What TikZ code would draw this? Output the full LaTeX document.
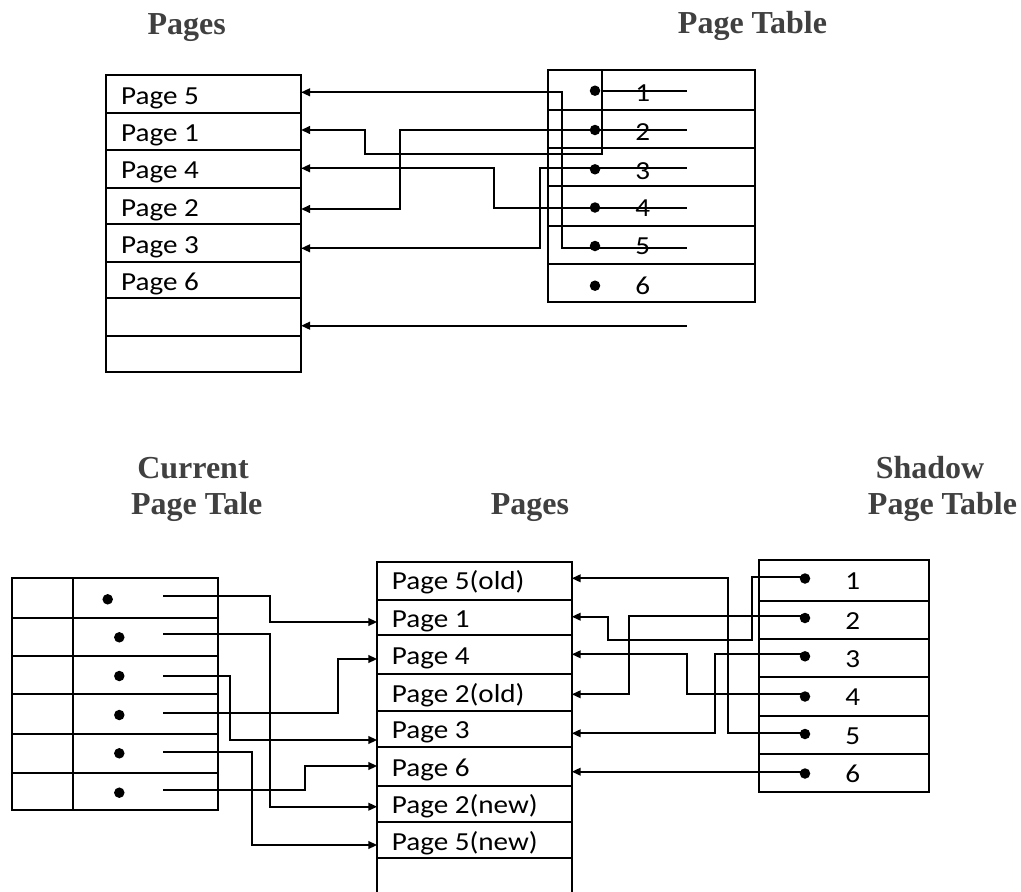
\documentclass[tikz,border=0pt]{standalone}
\usepackage{fontspec}
\setmainfont{Liberation Serif}
\newfontfamily\bodyfont[FakeStretch=1.12]{Carlito}
\usetikzlibrary{arrows.meta}
\definecolor{titlegray}{RGB}{64,64,64}
\tikzset{
  title/.style={font=\fontsize{32}{36}\selectfont\bfseries, text=titlegray, anchor=base, inner sep=0},
  cell/.style={draw, line width=2.2pt, inner sep=0, outer sep=0, anchor=north west},
  lbl/.style={font=\bodyfont\fontsize{26}{30}\selectfont, anchor=base west, inner sep=0},
  num/.style={font=\bodyfont\fontsize{26}{30}\selectfont, anchor=base, inner sep=0},
  link/.style={line width=2.2pt},
  arr/.style={link, -{Triangle[length=9pt,width=7.5pt]}},
  dot/.style={circle, fill, inner sep=0, minimum size=10.5pt},
}
\newcommand\cellrow[5]{%
  \pgfmathsetmacro\cw{#4-#2}\pgfmathsetmacro\ch{#5-#3}%
  \node[cell, minimum width=\cw pt, minimum height=\ch pt] (#1) at (#2,#3) {};}
\begin{document}
\begin{tikzpicture}[x=1pt,y=-1pt]
\useasboundingbox (0,0) rectangle (1021,892);

% ---------- titles ----------
\node[title] (t1) at (186.7,34.3) {Pages};
\node[title] (t2) at (752.5,33) {Page Table};
\node[title] (t3) at (193,478.3) {Current};
\node[title] (t4) at (196.7,514) {Page Tale};
\node[title] (t5) at (530,514) {Pages};
\node[title] (t6) at (930,478.3) {Shadow};
\node[title] (t7) at (942.5,514) {Page Table};

% ---------- top: pages ----------
\cellrow{tp1}{106}{75}{301}{112.7}
\cellrow{tp2}{106}{112.7}{301}{150}
\cellrow{tp3}{106}{150}{301}{187.7}
\cellrow{tp4}{106}{187.7}{301}{224.3}
\cellrow{tp5}{106}{224.3}{301}{261.7}
\cellrow{tp6}{106}{261.7}{301}{298.3}
\cellrow{tp7}{106}{298.3}{301}{336}
\cellrow{tp8}{106}{336}{301}{371.7}
\node[lbl] (tl1) at (121,104.3) {Page 5};
\node[lbl] (tl2) at (121,141.4) {Page 1};
\node[lbl] (tl3) at (121,178.9) {Page 4};
\node[lbl] (tl4) at (121,216) {Page 2};
\node[lbl] (tl5) at (121,253) {Page 3};
\node[lbl] (tl6) at (121,290) {Page 6};

% ---------- top: page table ----------
\cellrow{tt1}{548.3}{70}{755}{110}
\cellrow{tt2}{548.3}{110}{755}{148.3}
\cellrow{tt3}{548.3}{148.3}{755}{186}
\cellrow{tt4}{548.3}{186}{755}{225.7}
\cellrow{tt5}{548.3}{225.7}{755}{264}
\cellrow{tt6}{548.3}{264}{755}{301.7}
\node[dot] (td1) at (595,90.7) {};
\node[dot] (td2) at (595,130) {};
\node[dot] (td3) at (595,169.3) {};
\node[dot] (td4) at (595,207.5) {};
\node[dot] (td5) at (595,246) {};
\node[dot] (td6) at (595,285.7) {};
\node[num] (tn1) at (642.7,101.5) {1};
\node[num] (tn2) at (642.7,140.4) {2};
\node[num] (tn3) at (642.7,179.3) {3};
\node[num] (tn4) at (642.7,216.7) {4};
\node[num] (tn5) at (642.7,254.3) {5};
\node[num] (tn6) at (642.7,294.5) {6};

\coordinate (te1) at (686.7,90.7);
\coordinate (te2) at (686.7,130);
\coordinate (te3) at (686.7,168.3);
\coordinate (te4) at (686.7,208.3);
\coordinate (te5) at (686.7,248.3);
\coordinate (te7) at (686.7,325.7);

\draw[link] (tt1.north -| 602.3,0) -- (602.3,90.7);
\draw[arr] (te1) -- (602.3,90.7) -- (602.3,154.3) -- (365,154.3) -- (365,130) -- (tp2.east |- 0,130);
\draw[arr] (te2) -- (400,130) -- (400,209) -- (tp4.east |- 0,209);
\draw[arr] (te3) -- (540,168.3) -- (540,248.3) -- (tp5.east |- 0,248.3);
\draw[arr] (te4) -- (494.3,208.3) -- (494.3,168.3) -- (tp3.east |- 0,168.3);
\draw[arr] (te5) -- (562.3,248.3) -- (562.3,92.3) -- (tp1.east |- 0,92.3);
\draw[arr] (te7) -- (tp7.east |- 0,325.7);

% ---------- bottom: current page table ----------
\cellrow{bl1}{11.7}{577.7}{73.3}{617.7}
\cellrow{bl2}{11.7}{617.7}{73.3}{656}
\cellrow{bl3}{11.7}{656}{73.3}{694.3}
\cellrow{bl4}{11.7}{694.3}{73.3}{734.3}
\cellrow{bl5}{11.7}{734.3}{73.3}{772.7}
\cellrow{bl6}{11.7}{772.7}{73.3}{810}
\cellrow{br1}{73.3}{577.7}{218.3}{617.7}
\cellrow{br2}{73.3}{617.7}{218.3}{656}
\cellrow{br3}{73.3}{656}{218.3}{694.3}
\cellrow{br4}{73.3}{694.3}{218.3}{734.3}
\cellrow{br5}{73.3}{734.3}{218.3}{772.7}
\cellrow{br6}{73.3}{772.7}{218.3}{810}
\node[dot] (cd1) at (107.7,599.3) {};
\node[dot] (cd2) at (119.3,637.3) {};
\node[dot] (cd3) at (119.3,676) {};
\node[dot] (cd4) at (119.3,715) {};
\node[dot] (cd5) at (119.3,753.3) {};
\node[dot] (cd6) at (119.3,792.7) {};
\coordinate (cs1) at (163.3,596);
\coordinate (cs2) at (163.3,634);
\coordinate (cs3) at (163.3,676);
\coordinate (cs4) at (163.3,712.7);
\coordinate (cs5) at (163.3,752.3);
\coordinate (cs6) at (163.3,790);

% ---------- bottom: pages ----------
\cellrow{bp1}{377.3}{561.7}{571.7}{600}
\cellrow{bp2}{377.3}{600}{571.7}{635}
\cellrow{bp3}{377.3}{635}{571.7}{674}
\cellrow{bp4}{377.3}{674}{571.7}{711}
\cellrow{bp5}{377.3}{711}{571.7}{746.7}
\cellrow{bp6}{377.3}{746.7}{571.7}{786}
\cellrow{bp7}{377.3}{786}{571.7}{821.7}
\cellrow{bp8}{377.3}{821.7}{571.7}{858.3}
\cellrow{bp9}{377.3}{858.3}{571.7}{905}
\node[lbl] (bt1) at (391.7,589.8) {Page 5(old)};
\node[lbl] (bt2) at (391.7,627) {Page 1};
\node[lbl] (bt3) at (391.7,664.5) {Page 4};
\node[lbl] (bt4) at (391.7,702) {Page 2(old)};
\node[lbl] (bt5) at (391.7,738.5) {Page 3};
\node[lbl] (bt6) at (391.7,776) {Page 6};
\node[lbl] (bt7) at (391.7,813.5) {Page 2(new)};
\node[lbl] (bt8) at (391.7,850) {Page 5(new)};

% ---------- bottom: shadow page table ----------
\cellrow{bs1}{759}{560}{929.3}{600.7}
\cellrow{bs2}{759}{600.7}{929.3}{639.3}
\cellrow{bs3}{759}{639.3}{929.3}{676.7}
\cellrow{bs4}{759}{676.7}{929.3}{715.7}
\cellrow{bs5}{759}{715.7}{929.3}{754}
\cellrow{bs6}{759}{754}{929.3}{791.7}
\node[dot] (sd1) at (805,578.5) {};
\node[dot] (sd2) at (805,618) {};
\node[dot] (sd3) at (805,656.3) {};
\node[dot] (sd4) at (805,696.5) {};
\node[dot] (sd5) at (805,734) {};
\node[dot] (sd6) at (805,773.5) {};
\node[num] (sn1) at (852.7,589.5) {1};
\node[num] (sn2) at (852.7,629.5) {2};
\node[num] (sn3) at (852.7,667.5) {3};
\node[num] (sn4) at (852.7,705.7) {4};
\node[num] (sn5) at (852.7,744.3) {5};
\node[num] (sn6) at (852.7,782.3) {6};
\coordinate (se1) at (805,576.7);
\coordinate (se2) at (805,616);
\coordinate (se3) at (805,654.3);
\coordinate (se4) at (805,694.3);
\coordinate (se5) at (805,733.3);
\coordinate (se6) at (805,771.7);

% ---------- bottom connectors: current table -> pages ----------
\draw[arr] (cs1) -- (270,596) -- (270,622) -- (bp2.west |- 0,622);
\draw[arr] (cs2) -- (270,634) -- (270,806.7) -- (bp7.west |- 0,806.7);
\draw[arr] (cs3) -- (230,676) -- (230,740) -- (bp5.west |- 0,740);
\draw[arr] (cs4) -- (338.3,712.7) -- (338.3,659) -- (bp3.west |- 0,659);
\draw[arr] (cs5) -- (252.3,752.3) -- (252.3,845) -- (bp8.west |- 0,845);
\draw[arr] (cs6) -- (305,790) -- (305,766) -- (bp6.west |- 0,766);

% ---------- bottom connectors: shadow table -> pages ----------
\draw[arr] (se1) -- (752.3,576.7) -- (752.3,640) -- (608.3,640) -- (608.3,616.7) -- (bp2.east |- 0,616.7);
\draw[arr] (se2) -- (629.3,616) -- (629.3,694.3) -- (bp4.east |- 0,694.3);
\draw[arr] (se3) -- (715,654.3) -- (715,733.3) -- (bp5.east |- 0,733.3);
\draw[arr] (se4) -- (686.7,694.3) -- (686.7,654.3) -- (bp3.east |- 0,654.3);
\draw[arr] (se5) -- (728.3,733.3) -- (728.3,578.3) -- (bp1.east |- 0,578.3);
\draw[arr] (se6) -- (bp6.east |- 0,771.7);
\end{tikzpicture}
\end{document}
